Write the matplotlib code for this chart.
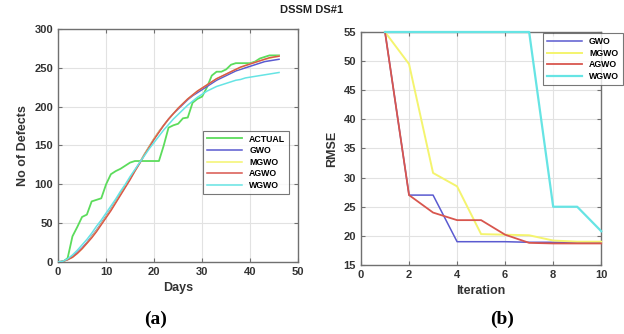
import matplotlib
matplotlib.use("Agg")
import matplotlib.pyplot as plt

plt.rcParams['font.family'] = ['Liberation Sans', 'DejaVu Sans']
plt.rcParams['font.weight'] = 'bold'

# (a) cumulative defects per day
days = list(range(47))
actual = [0, 0, 5, 33, 45, 58, 61, 78, 80, 82, 100, 113, 117, 120, 124, 128, 130, 130,
          130, 130, 130, 130, 150, 173, 176, 178, 185, 186, 205, 210, 213, 225, 240, 245,
          245, 248, 254, 256, 256, 256, 256, 258, 262, 264, 266, 266, 266]
gwo = [0, 1, 3, 7, 12, 18, 25, 33, 41, 50, 59, 68, 78, 88, 98, 108, 118, 128, 139, 149,
       159, 168, 176, 184, 191, 197, 203, 209, 214, 218, 222, 226, 230, 234, 237, 240,
       243, 246, 248, 250, 252, 254, 256, 258, 259, 260, 261]
mgwo = [0, 1, 3, 6, 11, 17, 24, 32, 40, 49, 58, 67, 77, 87, 97, 107, 117, 128, 139, 149,
        159, 168, 176, 184, 191, 198, 204, 210, 215, 220, 224, 228, 232, 236, 239, 242,
        245, 248, 250, 253, 255, 257, 259, 261, 262, 264, 265]
agwo = [0, 1, 3, 6, 11, 17, 24, 31, 39, 48, 57, 66, 76, 86, 96, 106, 117, 127, 138, 148,
        158, 167, 176, 184, 191, 198, 204, 210, 215, 220, 224, 228, 232, 236, 239, 242,
        245, 248, 251, 253, 255, 257, 259, 261, 263, 264, 265]
wgwo = [0, 1, 4, 9, 15, 22, 29, 37, 46, 54, 63, 72, 81, 91, 100, 110, 119, 128, 137, 146,
        154, 162, 170, 177, 184, 190, 196, 202, 207, 212, 216, 220, 223, 226, 228, 230,
        232, 234, 235, 237, 238, 239, 240, 241, 242, 243, 244]

# (b) RMSE per iteration
iters = list(range(1, 11))
rmse_gwo = [55, 27, 27, 19, 19, 19, 18.9, 18.9, 18.9, 18.9]
rmse_mgwo = [55, 49.5, 30.8, 28.5, 20.3, 20.2, 20.1, 19.2, 19.0, 19.0]
rmse_agwo = [55, 27, 24, 22.7, 22.7, 20.2, 18.8, 18.7, 18.7, 18.7]
rmse_wgwo = [55, 55, 55, 55, 55, 55, 55, 25, 25, 20.8]

c_act = '#5cdc5c'
c_gwo = '#5a5ad0'
c_mgwo = '#f4f46e'
c_agwo = '#d8564e'
c_wgwo = '#66e4e4'

fig = plt.figure(figsize=(6.24, 3.34), dpi=100)
ax1 = fig.add_axes([0.093, 0.2156, 0.385, 0.6976])
ax2 = fig.add_axes([0.5785, 0.2066, 0.385, 0.6976])


def style(ax):
    ax.grid(True, color='#e2e2e2', linewidth=0.8)
    ax.set_axisbelow(True)
    for s in ax.spines.values():
        s.set_color('#707070')
        s.set_linewidth(1.0)
        s.set_zorder(1)
    ax.tick_params(direction='in', length=3, color='#707070', labelsize=8,
                   top=True, right=True, labelcolor='#333333')
    for lab in ax.get_xticklabels() + ax.get_yticklabels():
        lab.set_fontweight('bold')


def make_legend(ax, **kw):
    leg = ax.legend(fontsize=6.3, frameon=True, fancybox=False, edgecolor='#555555',
                    borderpad=0.45, handlelength=4.0, handletextpad=0.8,
                    labelspacing=0.3, borderaxespad=0, **kw)
    leg.get_frame().set_linewidth(0.8)
    for t in leg.get_texts():
        t.set_fontweight('bold')
    return leg


ax1.plot(days, actual, color=c_act, lw=1.3, label='ACTUAL')
ax1.plot(days, gwo, color=c_gwo, lw=1.1, label='GWO')
ax1.plot(days, mgwo, color=c_mgwo, lw=1.1, label='MGWO')
ax1.plot(days, agwo, color=c_agwo, lw=1.1, label='AGWO')
ax1.plot(days, wgwo, color=c_wgwo, lw=1.1, label='WGWO')
ax1.set_xlim(0, 50)
ax1.set_ylim(0, 300)
ax1.set_xticks(range(0, 51, 10))
ax1.set_yticks(range(0, 301, 50))
style(ax1)
ax1.set_xlabel('Days', fontsize=9, fontweight='bold', color='#333333', labelpad=4)
ax1.set_ylabel('No of Defects', fontsize=9, fontweight='bold', color='#333333', labelpad=4)
make_legend(ax1, loc='lower right', bbox_to_anchor=(0.9625, 0.292))

ax2.plot(iters, rmse_gwo, color=c_gwo, lw=1.1, label='GWO', clip_on=False)
ax2.plot(iters, rmse_mgwo, color=c_mgwo, lw=1.4, label='MGWO', clip_on=False)
ax2.plot(iters, rmse_agwo, color=c_agwo, lw=1.3, label='AGWO', clip_on=False)
ax2.plot(iters, rmse_wgwo, color=c_wgwo, lw=1.6, label='WGWO', clip_on=False)
ax2.set_xlim(0, 10)
ax2.set_ylim(15, 55)
ax2.set_xticks(range(0, 11, 2))
ax2.set_yticks(range(15, 56, 5))
style(ax2)
ax2.set_xlabel('Iteration', fontsize=9, fontweight='bold', color='#333333', labelpad=4)
ax2.set_ylabel('RMSE', fontsize=9, fontweight='bold', color='#333333', labelpad=4)
make_legend(ax2, loc='upper left', bbox_to_anchor=(0.758, 0.995))

fig.text(0.5, 0.97, 'DSSM DS#1', ha='center', va='center', fontsize=8,
         fontweight='bold', color='#222222')
fig.text(0.25, 0.045, '(a)', ha='center', va='center', fontsize=14,
         fontweight='bold', family='Liberation Serif')
fig.text(0.805, 0.045, '(b)', ha='center', va='center', fontsize=14,
         fontweight='bold', family='Liberation Serif')

fig.savefig('out.png', dpi=100)
